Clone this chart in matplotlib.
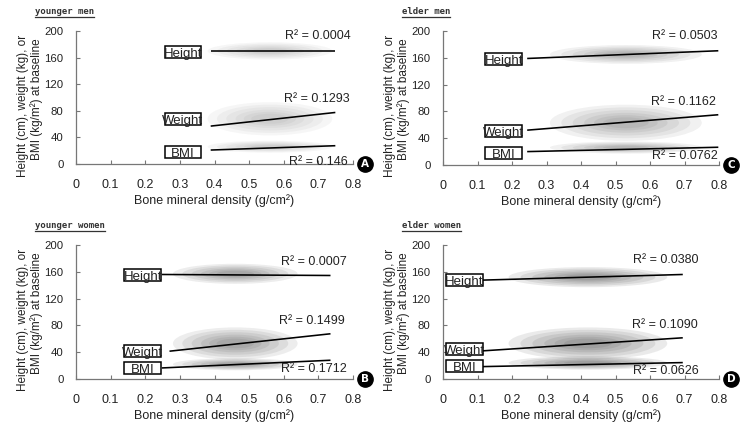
import matplotlib
matplotlib.use("Agg")
import matplotlib.pyplot as plt
from matplotlib.patches import Ellipse, Rectangle
from matplotlib.lines import Line2D
from matplotlib import font_manager

names = {f.name for f in font_manager.fontManager.ttflist}
NARROW = "Liberation Sans Narrow" if "Liberation Sans Narrow" in names else "Liberation Sans"
plt.rcParams["font.family"] = [NARROW, "DejaVu Sans"]

# ---------------- data ----------------
panel_titles = ["younger men", "elder men", "younger women", "elder women"]
panel_badges = ["A", "C", "B", "D"]
series = ["Height", "Weight", "BMI"]

# regression line end points (x: BMD g/cm2, y: value)
line_x0 = {"Height": [0.389, 0.244, 0.248, 0.115],
           "Weight": [0.389, 0.244, 0.270, 0.115],
           "BMI":    [0.389, 0.244, 0.248, 0.115]}
line_x1 = {"Height": [0.749, 0.798, 0.735, 0.695],
           "Weight": [0.749, 0.798, 0.735, 0.695],
           "BMI":    [0.749, 0.798, 0.735, 0.695]}
line_y0 = {"Height": [170.0, 159.0, 156.0, 147.6],
           "Weight": [57.0, 52.0, 41.5, 42.0],
           "BMI":    [21.0, 20.0, 16.5, 18.5]}
line_y1 = {"Height": [170.0, 170.5, 154.5, 156.0],
           "Weight": [77.5, 75.0, 67.5, 61.5],
           "BMI":    [27.5, 26.5, 28.0, 24.5]}

# R² values and label anchor (right edge x, centre y)
r2_text = {"Height": ["0.0004", "0.0503", "0.0007", "0.0380"],
           "Weight": ["0.1293", "0.1162", "0.1499", "0.1090"],
           "BMI":    ["0.146", "0.0762", "0.1712", "0.0626"]}
r2_x = {"Height": [0.794, 0.795, 0.781, 0.740],
        "Weight": [0.789, 0.790, 0.776, 0.737],
        "BMI":    [0.786, 0.795, 0.781, 0.742]}
r2_y = {"Height": [192.0, 192.0, 175.0, 177.0],
        "Weight": [97.0, 94.0, 87.0, 81.0],
        "BMI":    [3.5, 13.4, 15.4, 12.5]}

# boxed series labels (centre x, centre y)
box_x = [0.309, 0.176, 0.193, 0.062]
box_y = {"Height": [168.6, 158.0, 155.0, 147.6],
         "Weight": [67.8, 50.7, 41.4, 44.3],
         "BMI":    [18.0, 17.9, 16.0, 19.0]}

# scatter clouds: centre and half extents
cloud_cx = [0.56, 0.53, 0.46, 0.42]
cloud_hx = [0.18, 0.22, 0.18, 0.23]
cloud_cy = {"Height": [170.0, 165.0, 157.0, 152.0],
            "Weight": [68.0, 63.0, 53.0, 53.0],
            "BMI":    [26.0, 26.0, 22.0, 24.0]}
cloud_hy = {"Height": [13.0, 14.0, 15.0, 15.0],
            "Weight": [25.0, 27.0, 24.0, 24.0],
            "BMI":    [9.0, 9.0, 9.0, 10.0]}
cloud_density = [0.45, 0.7, 0.9, 1.0]

x_ticks = [0, 0.1, 0.2, 0.3, 0.4, 0.5, 0.6, 0.7, 0.8]
x_ticklabels = ["0", "0.1", "0.2", "0.3", "0.4", "0.5", "0.6", "0.7", "0.8"]
y_ticks = [0, 40, 80, 120, 160, 200]
y_ticklabels = ["0", "40", "80", "120", "160", "200"]

# ---------------- layout ----------------
W, H = 751, 429
fig = plt.figure(figsize=(W / 100, H / 100), dpi=100)

# axes pixel boxes: left, top(200), right(0.8), bottom(0)
ax_px = [(76, 31, 353, 164), (443, 31, 719, 165),
         (76, 245, 353, 379), (443, 245, 719, 379)]

TXT = "#222222"
SPINE = "#777777"

axes = []
for i, (l, t, r, b) in enumerate(ax_px):
    ax = fig.add_axes([l / W, (H - b) / H, (r - l) / W, (b - t) / H])
    axes.append(ax)
    ax.set_xlim(0, 0.8)
    ax.set_ylim(0, 200)
    for s in ["top", "right"]:
        ax.spines[s].set_visible(False)
    for s in ["left", "bottom"]:
        ax.spines[s].set_color(SPINE)
        ax.spines[s].set_linewidth(0.9)
    ax.set_xticks(x_ticks)
    ax.set_xticklabels(x_ticklabels)
    ax.set_yticks(y_ticks)
    ax.set_yticklabels(y_ticklabels)
    ax.tick_params(axis="x", direction="in", length=3, width=0.8, color=SPINE,
                   pad=11, labelsize=9, labelcolor=TXT)
    ax.tick_params(axis="y", direction="in", length=3, width=0.8, color=SPINE,
                   pad=9, labelsize=8.2, labelcolor=TXT)
    ax.patch.set_alpha(0)

    # clouds
    for sname in series:
        cx, hx = cloud_cx[i], cloud_hx[i]
        cy, hy = cloud_cy[sname][i], cloud_hy[sname][i]
        dens = cloud_density[i]
        for k, sc in enumerate([1.0, 0.85, 0.7, 0.55, 0.42, 0.3]):
            ax.add_patch(Ellipse((cx, cy), 2 * hx * sc, 2 * hy * sc,
                                 facecolor="#3a3a3a", edgecolor="none",
                                 alpha=0.10 * dens, zorder=1))

    # lines
    for sname in series:
        ax.plot([line_x0[sname][i], line_x1[sname][i]],
                [line_y0[sname][i], line_y1[sname][i]],
                color="black", lw=1.15, zorder=3, solid_capstyle="butt")

    # boxed labels
    bw = 0.106
    bh = 17.6
    for sname in series:
        bx, by = box_x[i], box_y[sname][i]
        ax.add_patch(Rectangle((bx - bw / 2, by - bh / 2), bw, bh,
                               facecolor="white", edgecolor="black", lw=1.1,
                               zorder=4, clip_on=False))
        ax.text(bx, by - bh / 2 + 1.5, sname, ha="center", va="baseline",
                fontsize=9.5, color=TXT, zorder=5)

    # R² labels
    for sname in series:
        ax.text(r2_x[sname][i], r2_y[sname][i], "R² = " + r2_text[sname][i],
                ha="right", va="center", fontsize=9, color=TXT, zorder=5)

    # x label
    ax.text(0.5, -(37 / (b - t)), "Bone mineral density (g/cm²)",
            transform=ax.transAxes, ha="center", va="center", fontsize=9,
            color=TXT)

    # y label (two lines)
    ax.text(-(53 / (r - l)), 0.44, "Height (cm), weight (kg), or",
            transform=ax.transAxes, ha="center", va="center", rotation=90,
            fontsize=8.5, color=TXT)
    ax.text(-(39 / (r - l)), 0.49, "BMI (kg/m²) at baseline",
            transform=ax.transAxes, ha="center", va="center", rotation=90,
            fontsize=8.5, color=TXT)

    # badge
    ax.plot([1 + 12 / (r - l)], [0], marker="o", markersize=11,
            color="black", transform=ax.transAxes, clip_on=False, zorder=6)
    ax.text(1 + 12 / (r - l), 0, panel_badges[i], transform=ax.transAxes,
            ha="center", va="center", color="white", fontsize=7.5,
            fontweight="bold", family="DejaVu Sans", zorder=7)

# panel titles (underlined)
title_pos = [(35, 14), (402, 14), (35, 228), (402, 228)]
title_texts = []
for i, (tx, ty) in enumerate(title_pos):
    t = fig.text(tx / W, (H - ty) / H, panel_titles[i], ha="left",
                 va="baseline", fontsize=6.5, family="DejaVu Sans Mono",
                 fontweight="bold", color="#333333")
    title_texts.append(t)

fig.canvas.draw()
rend = fig.canvas.get_renderer()
for t, (tx, ty) in zip(title_texts, title_pos):
    bb = t.get_window_extent(rend)
    yline = (H - ty - 3) / H
    fig.add_artist(Line2D([bb.x0 / W, bb.x1 / W], [yline, yline],
                          color="#333333", lw=0.9))

fig.savefig("out.png", dpi=100)
